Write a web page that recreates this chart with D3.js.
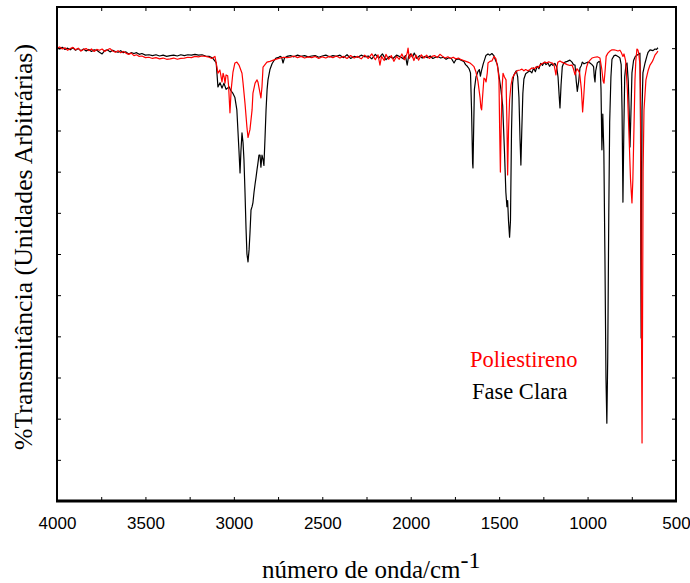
<!DOCTYPE html>
<html>
<head>
<meta charset="utf-8">
<script src="https://cdn.jsdelivr.net/npm/d3@7"></script>
<style>
  body { margin: 0; background: #fff; }
  svg { display: block; }
</style>
</head>
<body>
<svg id="chart" width="690" height="583"></svg>
<script>
// IR spectra: [wavenumber (cm-1), transmittance (arbitrary %)]
const faseClara = [
  [4000,100.1],[3985,99.8],[3970,100.2],[3955,99.7],[3940,100.0],[3925,99.6],[3910,100.1],[3895,99.5],
  [3880,99.9],[3865,99.4],[3850,99.8],[3835,99.3],[3820,99.7],[3805,99.2],[3790,99.6],[3775,99.5],
  [3760,99.0],[3745,98.6],[3730,99.4],[3715,99.6],[3700,99.1],[3685,99.5],[3670,99.2],[3655,99.0],
  [3640,99.4],[3625,98.9],[3610,99.1],[3595,98.6],[3580,98.9],[3565,98.7],[3550,98.9],[3535,98.5],
  [3520,98.7],[3500,98.3],[3480,98.4],[3460,98.2],[3440,98.4],[3420,98.1],[3400,98.3],[3380,98.0],
  [3360,98.2],[3340,98.3],[3320,98.1],[3300,98.4],[3280,98.2],[3260,98.4],[3240,98.3],[3220,98.5],
  [3200,98.3],[3180,98.4],[3160,98.1],[3140,98.0],[3120,97.6],[3100,96.5],[3090,90.6],[3078,91.6],
  [3067,90.3],[3056,91.5],[3044,90.0],[3027,90.6],[3016,89.6],[3005,89.0],[2994,88.0],[2983,85.0],
  [2971,75.0],[2965,69.7],[2960,75.0],[2954,79.4],[2948,77.0],[2943,73.0],[2937,65.0],[2931,56.0],
  [2926,50.0],[2920,48.1],[2914,51.0],[2909,55.0],[2903,60.7],[2897,61.5],[2892,62.5],[2886,65.0],
  [2880,67.0],[2875,68.5],[2869,70.5],[2864,72.0],[2858,74.0],[2852,74.0],[2847,71.1],[2841,74.0],
  [2835,73.0],[2830,71.5],[2824,78.0],[2818,85.0],[2812,90.0],[2807,92.3],[2796,94.8],[2784,96.2],
  [2773,97.0],[2762,97.6],[2750,97.7],[2739,98.0],[2730,97.8],[2722,96.4],[2714,97.6],[2700,98.0],
  [2680,98.2],[2660,97.9],[2640,98.3],[2620,98.0],[2600,98.2],[2580,97.9],[2560,98.1],[2540,98.2],
  [2520,97.8],[2500,98.1],[2480,98.3],[2460,97.9],[2440,98.2],[2420,98.0],[2400,98.3],[2380,97.7],
  [2360,98.4],[2340,97.5],[2320,98.0],[2300,97.8],[2280,98.3],[2260,97.9],[2240,98.1],[2220,97.4],
  [2200,98.5],[2180,97.6],[2160,98.6],[2140,97.2],[2120,98.0],[2100,97.5],[2080,98.3],[2060,97.9],
  [2040,97.4],[2030,98.2],[2020,95.9],[2012,98.0],[2000,98.6],[1990,97.8],[1980,98.8],[1965,97.5],
  [1950,98.2],[1935,97.6],[1920,98.0],[1905,97.7],[1890,98.1],[1875,97.5],[1860,97.8],[1845,97.9],
  [1830,97.6],[1815,97.8],[1800,97.3],[1785,97.7],[1770,97.5],[1755,96.4],[1745,97.2],[1730,97.4],
  [1715,97.1],[1700,96.8],[1690,96.0],[1680,95.6],[1670,95.0],[1662,94.0],[1656,85.0],[1650,72.0],
  [1648,70.9],[1645,78.0],[1640,90.0],[1631,93.0],[1620,94.3],[1612,94.8],[1606,93.2],[1600,94.5],
  [1590,96.2],[1575,98.2],[1563,98.6],[1552,98.3],[1541,98.7],[1530,98.2],[1520,97.0],[1510,96.0],
  [1500,93.0],[1490,90.0],[1480,86.0],[1470,75.0],[1462,65.0],[1456,61.5],[1452,63.0],[1447,58.0],
  [1441,54.1],[1436,58.0],[1430,80.0],[1424,91.5],[1418,93.3],[1410,94.0],[1403,94.5],[1395,93.0],
  [1388,88.0],[1382,78.0],[1377,71.6],[1372,80.0],[1366,89.0],[1360,92.5],[1350,93.8],[1337,94.2],
  [1326,94.5],[1315,94.0],[1305,95.2],[1295,94.3],[1285,95.6],[1275,95.0],[1265,96.3],[1255,95.8],
  [1245,96.6],[1235,96.0],[1224,96.4],[1215,95.6],[1205,96.2],[1196,95.8],[1185,96.3],[1175,95.5],
  [1167,93.0],[1160,88.0],[1156,85.5],[1150,91.0],[1143,95.5],[1135,96.4],[1128,96.6],[1115,96.8],
  [1100,97.1],[1088,96.6],[1080,96.0],[1071,95.9],[1064,92.0],[1058,89.5],[1050,92.0],[1043,95.2],
  [1035,95.8],[1030,96.6],[1020,96.2],[1010,96.4],[998,96.6],[986,96.4],[975,96.0],[966,95.5],
  [962,93.0],[958,91.8],[954,94.5],[945,96.4],[935,96.8],[930,96.6],[924,90.0],[919,75.3],
  [914,84.0],[908,75.0],[902,50.0],[896,20.0],[891,8.9],[886,25.0],[880,60.0],[875,82.0],
  [868,93.0],[862,97.3],[850,98.2],[840,98.3],[828,98.0],[817,97.6],[810,96.0],[805,85.0],
  [800,62.6],[795,80.0],[790,93.0],[783,96.0],[777,96.4],[770,92.0],[765,85.0],[760,76.0],
  [755,84.0],[749,94.0],[740,97.0],[730,98.0],[721,98.3],[710,98.6],[704,98.8],[701,90.0],
  [699,50.0],[697,29.6],[695,55.0],[692,85.0],[687,94.0],[675,96.4],[665,98.0],[658,99.0],
  [647,99.6],[630,99.4],[619,99.8],[610,99.7],[602,100.1]
];

const poliestireno = [
  [4000,100.0],[3985,100.3],[3970,99.8],[3955,100.1],[3940,99.5],[3925,99.9],[3910,100.2],[3895,99.6],
  [3880,100.0],[3865,99.3],[3850,99.7],[3835,99.9],[3820,99.4],[3805,99.8],[3790,99.2],[3775,99.7],
  [3760,99.5],[3745,99.8],[3730,99.2],[3715,99.6],[3700,99.9],[3685,99.3],[3670,99.0],[3655,99.4],
  [3640,98.9],[3625,99.2],[3610,98.8],[3595,98.5],[3580,98.8],[3565,98.2],[3550,98.4],[3535,98.0],
  [3520,98.1],[3500,97.7],[3480,97.8],[3460,97.5],[3440,97.7],[3420,97.4],[3400,97.6],[3380,97.3],
  [3360,97.4],[3340,97.6],[3320,97.3],[3300,97.5],[3280,97.6],[3260,97.8],[3240,97.7],[3220,98.0],
  [3200,97.9],[3180,98.1],[3160,98.0],[3140,97.8],[3125,97.5],[3107,98.0],[3096,95.5],[3090,93.9],
  [3079,94.7],[3067,91.8],[3061,93.9],[3055,93.0],[3050,91.5],[3044,93.5],[3035,93.3],[3030,91.0],
  [3022,84.3],[3015,90.0],[3005,94.2],[2994,96.4],[2983,96.6],[2971,95.9],[2954,93.9],[2948,91.5],
  [2937,86.6],[2926,80.8],[2920,78.3],[2909,80.2],[2897,85.0],[2892,89.1],[2880,91.5],[2869,92.3],
  [2864,91.8],[2852,89.1],[2847,87.9],[2841,90.6],[2835,95.4],[2813,96.6],[2796,96.8],[2756,97.4],
  [2720,97.8],[2700,97.7],[2680,97.8],[2660,98.1],[2640,97.7],[2620,98.0],[2600,97.6],[2580,97.9],
  [2560,97.7],[2540,98.0],[2520,97.5],[2500,97.9],[2480,97.6],[2460,98.0],[2440,97.7],[2420,98.1],
  [2400,97.6],[2380,98.0],[2360,97.5],[2340,98.2],[2320,97.6],[2300,98.0],[2280,97.4],[2260,98.3],
  [2240,97.5],[2220,98.6],[2200,97.2],[2185,98.4],[2174,95.9],[2165,98.0],[2150,97.0],[2140,98.5],
  [2125,97.3],[2110,98.2],[2095,96.8],[2080,98.0],[2065,97.3],[2050,98.6],[2035,97.2],[2020,98.8],
  [2015,100.0],[2008,97.5],[1995,98.6],[1982,97.0],[1970,98.3],[1955,97.1],[1940,98.4],[1925,97.6],
  [1910,98.3],[1895,97.5],[1880,98.0],[1865,98.2],[1850,97.7],[1835,98.5],[1820,98.0],[1805,97.6],
  [1790,97.9],[1775,97.5],[1760,97.8],[1745,97.4],[1730,97.6],[1715,97.2],[1700,97.0],[1688,96.8],
  [1676,96.6],[1665,96.4],[1654,96.0],[1642,95.5],[1631,94.2],[1620,92.0],[1608,88.0],[1603,85.5],
  [1599,85.0],[1594,88.0],[1586,92.7],[1580,92.5],[1574,91.8],[1567,94.0],[1563,96.4],[1552,96.8],
  [1541,96.9],[1529,98.0],[1518,97.4],[1507,95.0],[1501,92.3],[1497,80.0],[1493,69.9],[1489,80.0],
  [1484,90.0],[1478,93.9],[1470,93.0],[1461,92.3],[1456,82.0],[1452,69.2],[1447,80.0],[1441,87.4],
  [1433,91.0],[1425,92.8],[1416,93.5],[1405,94.2],[1394,94.6],[1382,94.7],[1371,94.9],[1360,94.5],
  [1350,94.8],[1337,94.5],[1326,94.8],[1315,95.2],[1300,95.0],[1290,95.5],[1280,95.3],[1270,95.8],
  [1260,96.2],[1250,96.4],[1240,96.6],[1230,96.4],[1220,96.7],[1210,96.5],[1200,96.4],[1190,96.0],
  [1183,94.5],[1179,93.5],[1175,95.0],[1168,96.6],[1156,96.9],[1145,96.6],[1130,96.3],[1115,96.0],
  [1100,95.8],[1088,95.9],[1080,95.0],[1071,93.5],[1066,94.3],[1060,95.0],[1054,94.7],[1045,94.0],
  [1035,90.0],[1028,84.5],[1022,88.0],[1015,93.0],[1005,95.5],[998,96.4],[986,97.1],[975,97.6],
  [960,97.8],[945,97.9],[930,97.6],[920,95.0],[912,92.0],[907,91.5],[900,95.0],[895,98.0],
  [885,98.8],[873,99.3],[862,99.6],[850,99.6],[840,99.5],[828,99.3],[817,99.5],[810,99.0],
  [800,98.0],[794,98.6],[785,97.0],[775,90.0],[765,78.0],[757,68.0],[749,62.4],[744,68.0],
  [738,80.0],[732,92.3],[727,97.0],[721,99.8],[715,99.5],[710,98.5],[704,96.0],[700,80.0],
  [696,40.0],[692,4.1],[689,35.0],[686,70.0],[681,85.0],[675,89.0],[670,92.3],[658,94.5],
  [647,95.9],[636,96.6],[630,97.1],[619,98.3],[610,98.8],[602,99.3]
];

const xTickValues = d3.range(500, 4001, 250);
const xLabelValues = [4000, 3500, 3000, 2500, 2000, 1500, 1000, 500];
const yTickValues = d3.range(-10, 111, 10);

const legendItems = [
  { name: "Poliestireno", color: "#ff0000" },
  { name: "Fase Clara", color: "#000000" }
];

const svg = d3.select("#chart");
const plotLeft = 57, plotRight = 676, plotTop = 7, plotBottom = 501;

const x = d3.scaleLinear().domain([4000, 500]).range([plotLeft, plotRight]);
const y = d3.scaleLinear().domain([-10, 110]).range([plotBottom, plotTop]);

// inward ticks on all four sides
const tickLen = 4;
const bottomAxis = d3.axisBottom(x).tickValues(xTickValues).tickSizeInner(-tickLen).tickSizeOuter(0)
  .tickPadding(16).tickFormat(d => xLabelValues.includes(d) ? d : "");
const topAxis = d3.axisTop(x).tickValues(xTickValues).tickSizeInner(-tickLen).tickSizeOuter(0).tickFormat("");
const leftAxis = d3.axisLeft(y).tickValues(yTickValues).tickSizeInner(-tickLen).tickSizeOuter(0).tickFormat("");
const rightAxis = d3.axisRight(y).tickValues(yTickValues).tickSizeInner(-tickLen).tickSizeOuter(0).tickFormat("");

function styleAxis(g) {
  g.select(".domain").remove();
  g.selectAll(".tick line").attr("stroke", "#000").attr("stroke-width", 1);
  g.selectAll(".tick text").attr("fill", "#000")
    .attr("font-family", "'Liberation Sans', Arial, sans-serif").attr("font-size", 17);
}

svg.append("g").attr("transform", `translate(0,${plotBottom})`).call(bottomAxis).call(styleAxis);
svg.append("g").attr("transform", `translate(0,${plotTop})`).call(topAxis).call(styleAxis);
svg.append("g").attr("transform", `translate(${plotLeft},0)`).call(leftAxis).call(styleAxis);
svg.append("g").attr("transform", `translate(${plotRight},0)`).call(rightAxis).call(styleAxis);

// spectra
const line = d3.line().x(d => x(d[0])).y(d => y(d[1]));
const plot = svg.append("g");
plot.append("path").datum(faseClara)
  .attr("fill", "none").attr("stroke", "#000").attr("stroke-width", 1.2)
  .attr("stroke-linejoin", "round").attr("d", line);
plot.append("path").datum(poliestireno)
  .attr("fill", "none").attr("stroke", "#ff0000").attr("stroke-width", 1.2)
  .attr("stroke-linejoin", "round").attr("d", line);

// frame
svg.append("rect").attr("x", plotLeft).attr("y", plotTop)
  .attr("width", plotRight - plotLeft).attr("height", plotBottom - plotTop)
  .attr("fill", "none").attr("stroke", "#000").attr("stroke-width", 2);
svg.append("line").attr("x1", plotLeft - 1).attr("x2", plotRight + 1)
  .attr("y1", plotBottom).attr("y2", plotBottom)
  .attr("stroke", "#000").attr("stroke-width", 3);

// legend
const serif = "'Liberation Serif', 'Times New Roman', serif";
svg.selectAll(".legend").data(legendItems).enter().append("text")
  .attr("class", "legend")
  .attr("x", (d, i) => 470 + i * 2)
  .attr("y", (d, i) => 367 + i * 32)
  .attr("fill", d => d.color)
  .attr("font-family", serif).attr("font-size", 22.5)
  .text(d => d.name);

// axis titles
const xTitle = svg.append("text").attr("x", 262).attr("y", 578)
  .attr("font-family", serif).attr("font-size", 25).attr("fill", "#000");
xTitle.append("tspan").text("número de onda/cm");
xTitle.append("tspan").attr("dy", -10).attr("font-size", 24).text("-1");

svg.append("text")
  .attr("transform", "translate(32,247) rotate(-90)")
  .attr("text-anchor", "middle")
  .attr("font-family", serif).attr("font-size", 25.8).attr("fill", "#000")
  .text("%Transmitância (Unidades Arbitrárias)");
</script>
</body>
</html>
